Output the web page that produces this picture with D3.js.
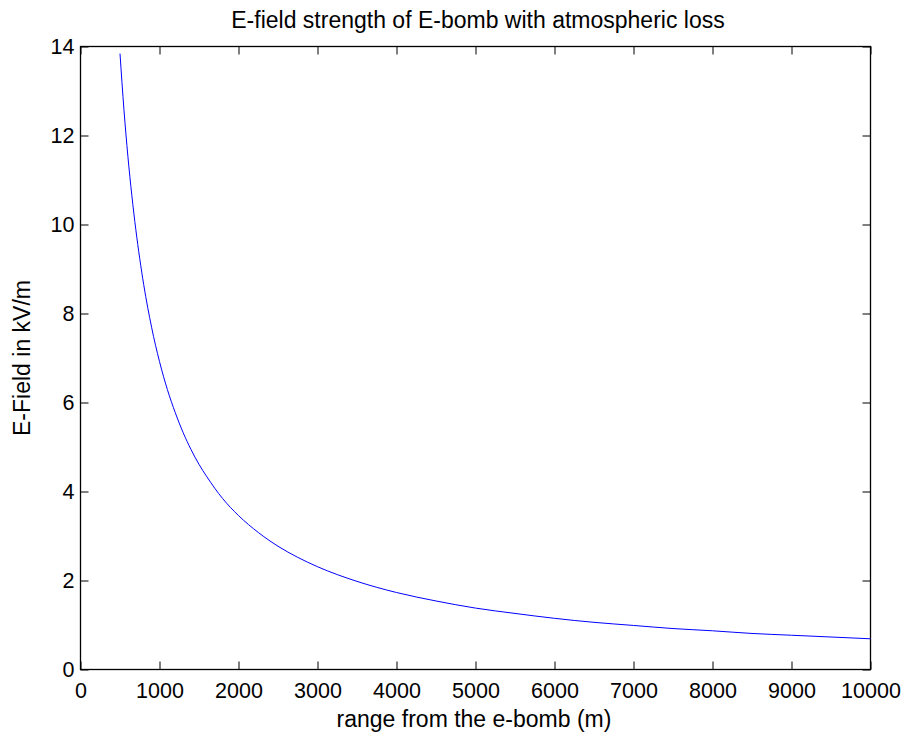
<!DOCTYPE html>
<html>
<head>
<meta charset="utf-8">
<script src="https://cdn.jsdelivr.net/npm/d3@7"></script>
<style>
  html, body { margin: 0; padding: 0; background: #fff; }
  svg { display: block; }
  text { font-family: "Liberation Sans", Arial, Helvetica, sans-serif; fill: #000; }
</style>
</head>
<body>
<svg id="chart" width="908" height="738"></svg>
<script>
// Data
const rangeM = [500, 550, 600, 650, 700, 750, 800, 900, 1000, 1100, 1200, 1300, 1400, 1500, 1600, 1800, 2000, 2250, 2500, 2750, 3000, 3500, 4000, 4500, 5000, 5500, 6000, 6500, 7000, 7500, 8000, 8500, 9000, 9500, 10000];
const fieldKVm = [13.84, 12.58, 11.53, 10.65, 9.89, 9.23, 8.65, 7.69, 6.92, 6.29, 5.77, 5.32, 4.94, 4.61, 4.33, 3.84, 3.46, 3.08, 2.77, 2.52, 2.31, 1.98, 1.73, 1.54, 1.38, 1.26, 1.15, 1.06, 0.99, 0.92, 0.87, 0.81, 0.77, 0.73, 0.69];
const xTicks = [0, 1000, 2000, 3000, 4000, 5000, 6000, 7000, 8000, 9000, 10000];
const yTicks = [0, 2, 4, 6, 8, 10, 12, 14];
const titleText = "E-field strength of E-bomb with atmospheric loss";
const xLabelText = "range from the e-bomb (m)";
const yLabelText = "E-Field in kV/m";

const svg = d3.select("#chart");
const L = 80.5, R = 870.5, T = 46.5, B = 669.5;
const x = d3.scaleLinear().domain([0, 10000]).range([L, R]);
const y = d3.scaleLinear().domain([0, 14]).range([B, T]);
const tickFs = 21.5;
const labelFs = 23;
const tickLen = 8;

// axes (ticks inward)
const gx = svg.append("g").attr("transform", `translate(0,${B})`)
  .call(d3.axisBottom(x).tickValues(xTicks).tickSize(-tickLen).tickPadding(13).tickFormat(d3.format("d")));
const gxTop = svg.append("g").attr("transform", `translate(0,${T})`)
  .call(d3.axisTop(x).tickValues(xTicks).tickSize(-tickLen).tickFormat(""));
const gy = svg.append("g").attr("transform", `translate(${L},0)`)
  .call(d3.axisLeft(y).tickValues(yTicks).tickSize(-tickLen).tickPadding(6).tickFormat(d3.format("d")));
const gyRight = svg.append("g").attr("transform", `translate(${R},0)`)
  .call(d3.axisRight(y).tickValues(yTicks).tickSize(-tickLen).tickFormat(""));

[gx, gxTop, gy, gyRight].forEach(g => {
  g.select(".domain").remove();
  g.selectAll("line").attr("stroke", "#000").attr("stroke-width", 1);
  g.selectAll("text").attr("font-size", tickFs).attr("font-family", "Liberation Sans, Arial, sans-serif").attr("fill", "#000");
});

// box
svg.append("rect").attr("x", L).attr("y", T).attr("width", R - L).attr("height", B - T)
  .attr("fill", "none").attr("stroke", "#000").attr("stroke-width", 1.3);

// line
const line = d3.line().x((d, i) => x(rangeM[i])).y(d => y(d)).curve(d3.curveMonotoneX);
svg.append("path").datum(fieldKVm).attr("d", line)
  .attr("fill", "none").attr("stroke", "#0000ff").attr("stroke-width", 1);

// title and labels
svg.append("text").attr("x", 478).attr("y", 28).attr("text-anchor", "middle")
  .attr("font-size", labelFs).text(titleText);
svg.append("text").attr("x", 474).attr("y", 727).attr("text-anchor", "middle")
  .attr("font-size", labelFs).text(xLabelText);
svg.append("text").attr("transform", `translate(30,${(T + B) / 2}) rotate(-90)`).attr("text-anchor", "middle")
  .attr("font-size", labelFs).text(yLabelText);
</script>
</body>
</html>
